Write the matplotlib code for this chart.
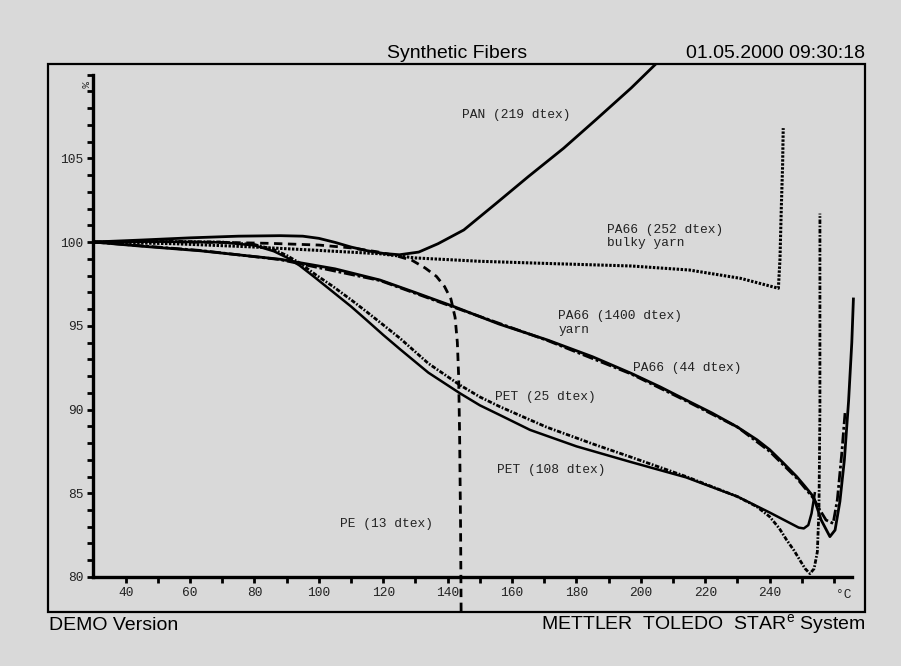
import matplotlib
matplotlib.use("Agg")
import matplotlib.pyplot as plt
from matplotlib.patches import Rectangle

# -----------------------
# Data (temperature in °C, length in %)
# -----------------------
pan_x = [30, 45, 60, 75, 88, 95, 100, 105, 110, 115, 120, 125, 131, 137, 145,
         155, 165, 176, 186, 197, 205]
pan_y = [100, 100.12, 100.25, 100.35, 100.38, 100.35, 100.22, 99.98, 99.7, 99.48,
         99.32, 99.24, 99.4, 99.9, 100.72, 102.3, 103.9, 105.6, 107.3, 109.2, 110.7]

pe_x = [30, 50, 70, 85, 100, 110, 118, 124, 129, 133, 136.5, 139, 141, 142.3,
        143, 143.4, 143.7, 144, 144.2]
pe_y = [100, 100.02, 99.98, 99.92, 99.82, 99.65, 99.42, 99.18, 98.9, 98.45,
        97.95, 97.35, 96.6, 95.5, 94.0, 92.0, 88.5, 83.0, 77.0]

bulky_x = [30, 55, 78, 98, 119, 130, 150, 171, 197, 215, 231, 242.7, 243.2,
           243.6, 244.0, 244.2]
bulky_y = [100, 99.9, 99.72, 99.52, 99.3, 99.05, 98.85, 98.72, 98.57, 98.33,
           97.83, 97.24, 99.0, 102.0, 104.5, 106.8]

pa1400_x = [30, 45, 63, 88, 105, 119, 130, 142, 156, 171, 185, 197, 206, 214,
            222, 230, 236, 240, 244, 248.4, 251, 253.6, 256, 258.7, 260.3,
            261.8, 263.2, 264.5, 265.5, 266]
pa1400_y = [100, 99.75, 99.48, 98.97, 98.4, 97.73, 96.98, 96.14, 95.1, 94.15,
            93.15, 92.16, 91.35, 90.57, 89.8, 88.95, 88.2, 87.6, 86.85,
            85.99, 85.4, 84.79, 83.4, 82.41, 82.8, 84.5, 87.0, 90.5, 94, 96.6]

pa44_x = [30, 63, 88, 119, 142, 171, 197, 214, 230, 240, 248.4, 253.6, 255.6,
          257.5, 259.7, 261, 262.3, 263.4]
pa44_y = [100, 99.5, 98.95, 97.7, 96.1, 94.12, 92.12, 90.52, 88.95, 87.5, 85.9,
          84.7, 84.0, 83.4, 83.2, 84.6, 87.2, 89.8]

pet108_x = [30, 50, 70, 80, 86, 90, 94, 99, 104.5, 110, 114.8, 120, 125.2, 134,
            143.8, 150, 156.2, 165.6, 180, 196.6, 214, 230, 240, 246, 249,
            250.6, 252, 253, 254]
pet108_y = [100, 100.03, 99.98, 99.8, 99.45, 99.08, 98.6, 97.85, 97.0, 96.15,
            95.34, 94.45, 93.6, 92.2, 90.97, 90.25, 89.67, 88.78, 87.8, 86.88,
            85.95, 84.8, 83.85, 83.25, 82.95, 82.9, 83.1, 83.8, 85.0]

pet25_x = [30, 50, 70, 80, 86, 90, 94, 99, 104.5, 110, 114.8, 120, 125.2, 134,
           143.8, 150, 156.2, 170.7, 185, 196.6, 214, 230, 236, 240, 243, 245.3,
           247.5, 249.4, 251, 252.5, 253.8, 254.8, 255.3, 255.6, 255.6]
pet25_y = [100, 100.05, 100.0, 99.85, 99.55, 99.2, 98.75, 98.05, 97.33, 96.55,
           95.84, 95.05, 94.25, 92.75, 91.46, 90.75, 90.17, 88.95, 87.95, 87.18,
           86.0, 84.8, 84.2, 83.6, 82.9, 82.2, 81.6, 81.0, 80.5, 80.2, 80.5,
           81.5, 84.0, 90.0, 101.7]

# curve labels: text, x, y
labels = [
    ("PAN (219 dtex)", 144.3, 107.6),
    ("PA66 (252 dtex)\nbulky yarn", 189.5, 100.33),
    ("PA66 (1400 dtex)\nyarn", 174.3, 95.16),
    ("PA66 (44 dtex)", 197.5, 92.48),
    ("PET (25 dtex)", 154.7, 90.76),
    ("PET (108 dtex)", 155.2, 86.39),
    ("PE (13 dtex)", 106.6, 83.16),
]

x_ticks = list(range(40, 261, 10))
x_ticklabels = [str(t) if t % 20 == 0 and t <= 240 else "" for t in x_ticks]
y_ticks = list(range(80, 111))
y_ticklabels = [str(t) if t % 5 == 0 and t <= 105 else "" for t in y_ticks]

# -----------------------
# Plotting
# -----------------------
bg = "#d9d9d9"
mono = "Liberation Mono"
sans = "Liberation Sans"
plt.rcParams["mathtext.fontset"] = "custom"
plt.rcParams["mathtext.rm"] = sans

fig = plt.figure(figsize=(9.01, 6.66), dpi=100, facecolor=bg)
ax = fig.add_axes([48 / 901, 1 - 612 / 666, (865 - 48) / 901, (612 - 64) / 666])
ax.set_facecolor(bg)
ax.set_xlim(15.87, 269.6)
ax.set_ylim(77.91, 110.63)

ax.plot(pan_x, pan_y, color="black", lw=2.0)
ax.plot(pe_x, pe_y, color="black", lw=2.0, linestyle=(0, (3, 2)))
ax.plot(bulky_x, bulky_y, color="black", lw=2.2, linestyle=(0, (0.8, 0.5)))
ax.plot(pa1400_x, pa1400_y, color="black", lw=2.0)
ax.plot(pa44_x, pa44_y, color="black", lw=2.0, linestyle=(0, (4, 1, 1, 1)))
ax.plot(pet108_x, pet108_y, color="black", lw=1.8)
ax.plot(pet25_x, pet25_y, color="black", lw=2.0, linestyle=(0, (1.6, 0.6, 0.6, 0.6)))

for txt, lx, ly in labels:
    ax.text(lx, ly, txt, fontsize=9.3, family=mono, color="#222222",
            ha="left", va="center", linespacing=1.15)

# axes drawn like the STARe export: thick axis lines inside a thin frame
for side in ["top", "right"]:
    ax.spines[side].set_visible(False)
ax.spines["left"].set_position(("data", 30))
ax.spines["left"].set_bounds(80, 110)
ax.spines["left"].set_linewidth(2.4)
ax.spines["bottom"].set_position(("data", 80))
ax.spines["bottom"].set_bounds(30, 265.5)
ax.spines["bottom"].set_linewidth(2.4)

ax.set_xticks(x_ticks)
ax.set_xticklabels(x_ticklabels)
ax.set_yticks(y_ticks)
ax.set_yticklabels(y_ticklabels)
ax.tick_params(direction="out", length=4, width=2, pad=3, labelsize=9.3,
               labelcolor="#222222")
for lab in ax.get_xticklabels() + ax.get_yticklabels():
    lab.set_family(mono)

ax.text(263, 78.95, "°C", fontsize=9.3, family=mono, color="#222222",
        ha="center", va="center")
ax.text(27.2, 109.4, "%", fontsize=8, family=mono, color="#222222",
        ha="center", va="center", rotation=-90)

ax.add_patch(Rectangle((0, 0), 1, 1, transform=ax.transAxes, fill=False,
                       lw=1.6, edgecolor="black", clip_on=False))

fig.text(457 / 901, 1 - 53 / 666, "Synthetic Fibers", fontsize=14, family=sans,
         ha="center", va="center")
fig.text(865 / 901, 1 - 53 / 666, "01.05.2000 09:30:18", fontsize=14,
         family=sans, ha="right", va="center")
fig.text(49 / 901, 1 - 625 / 666, "DEMO Version", fontsize=14, family=sans,
         ha="left", va="center")
fig.text(865 / 901, 1 - 625 / 666, "METTLER  TOLEDO  STAR$^{\\rm e}$ System",
         fontsize=14, family=sans, ha="right", va="center")

fig.savefig("out.png", dpi=100, facecolor=bg)
